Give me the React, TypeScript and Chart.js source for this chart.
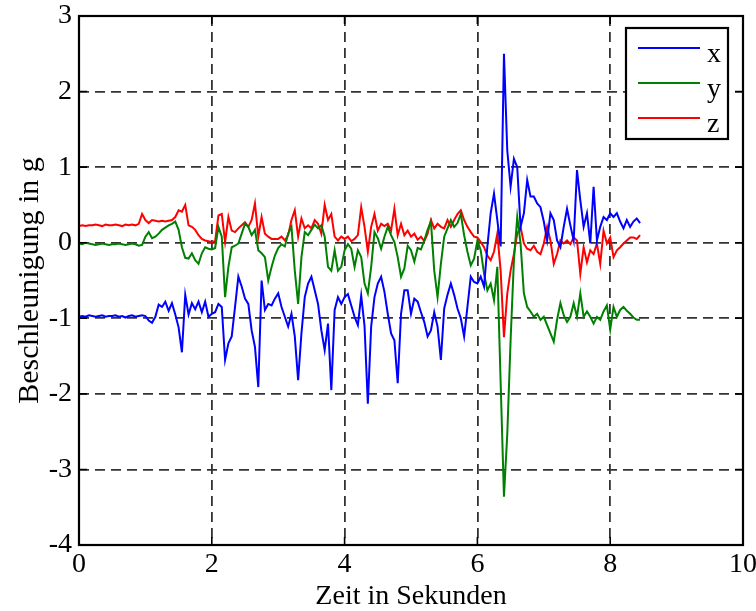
import { useEffect, useRef } from "react";
import { Chart, registerables } from "chart.js";

Chart.register(...registerables);

// sampling step of the recording (seconds)
const T_STEP = 0.05;

// acceleration x (blue)
const accX = [
  -0.98, -0.97, -0.98, -0.96, -0.97, -0.98, -0.97, -0.96, -0.98, -0.97, -0.97, -0.96, -0.98, -0.97, -0.99, -0.97, -0.96, -0.98, -0.97, -0.96,
  -0.97, -1.03, -1.06, -0.98, -0.82, -0.85, -0.78, -0.9, -0.8, -0.95, -1.12, -1.45, -0.69, -0.95, -0.8, -0.88, -0.78, -0.92, -0.78, -0.98,
  -0.94, -0.92, -0.81, -0.85, -1.55, -1.33, -1.24, -0.85, -0.45, -0.58, -0.74, -0.81, -1.16, -1.38, -1.91, -0.5, -0.89, -0.81, -0.83, -0.74,
  -0.67, -0.85, -0.98, -1.11, -0.94, -1.24, -1.82, -1.2, -0.72, -0.54, -0.45, -0.63, -0.81, -1.16, -1.42, -1.07, -1.95, -0.89, -0.72, -0.81,
  -0.72, -0.68, -0.83, -0.98, -1.09, -0.7, -1.1, -2.13, -1.11, -0.72, -0.54, -0.45, -0.65, -0.94, -1.2, -1.29, -1.86, -0.94, -0.63, -0.63,
  -0.94, -0.74, -0.78, -0.92, -1.05, -1.24, -1.16, -0.92, -1.11, -1.55, -0.87, -0.69, -0.54, -0.69, -0.87, -1.0, -1.24, -0.85, -0.45, -0.52,
  -0.54, -0.45, -0.58, -0.05, 0.39, 0.65, 0.3, -0.05, 2.5, 1.22, 0.74, 1.11, 1.0, 0.21, 0.39, 0.83, 0.61, 0.61, 0.52, 0.47,
  0.28, 0.03, 0.39, 0.3, 0.03, -0.06, 0.21, 0.45, 0.23, 0.03, 0.96, 0.56, 0.21, 0.39, -0.01, 0.74, 0.03, 0.21, 0.34, 0.3,
  0.39, 0.34, 0.39, 0.28, 0.19, 0.3, 0.21, 0.28, 0.32, 0.26,
];

// acceleration y (green)
const accY = [
  -0.01, -0.02, 0.0, -0.01, -0.02, -0.03, -0.02, -0.01, -0.02, -0.03, -0.02, -0.02, -0.01, -0.02, -0.03, -0.02, -0.01, -0.02, -0.04, -0.03,
  0.08, 0.14, 0.06, 0.08, 0.12, 0.17, 0.2, 0.23, 0.25, 0.28, 0.17, -0.06, -0.2, -0.21, -0.14, -0.23, -0.28, -0.14, -0.06, -0.08,
  -0.09, -0.07, 0.21, 0.08, -0.72, -0.32, -0.06, -0.04, -0.01, 0.12, 0.25, 0.21, 0.1, 0.17, -0.1, -0.14, -0.19, -0.5, -0.32, -0.17,
  -0.07, -0.02, -0.05, 0.12, 0.21, -0.37, -0.81, -0.19, 0.14, 0.1, 0.17, 0.24, 0.19, 0.23, 0.08, -0.32, -0.37, -0.1, -0.37, -0.32,
  -0.1, -0.02, -0.08, -0.32, -0.1, -0.19, -0.54, -0.67, -0.32, 0.14, 0.06, -0.08, 0.08, 0.21, 0.1, 0.01, -0.19, -0.45, -0.34, -0.04,
  -0.1, -0.25, -0.07, -0.09, 0.03, 0.17, 0.28, -0.37, -0.72, -0.28, 0.08, 0.19, 0.3, 0.21, 0.26, 0.38, 0.1, -0.12, -0.3, -0.21,
  0.03, -0.1, -0.41, -0.63, -0.54, -0.76, -0.32, -1.85, -3.36, -2.53, -1.29, -0.23, 0.34, -0.01, -0.67, -0.85, -0.91, -0.98, -0.94, -1.02,
  -0.98, -1.09, -1.2, -1.31, -1.02, -0.8, -0.96, -1.05, -0.98, -0.8, -0.98, -0.67, -0.98, -0.91, -0.98, -1.07, -0.98, -1.02, -0.91, -0.83,
  -1.15, -0.85, -0.98, -0.89, -0.85, -0.9, -0.94, -0.99, -1.02, -1.02,
];

// acceleration z (red)
const accZ = [
  0.22, 0.23, 0.22, 0.23, 0.23, 0.24, 0.23, 0.22, 0.24, 0.23, 0.23, 0.24, 0.23, 0.22, 0.24, 0.23, 0.24, 0.23, 0.25, 0.38,
  0.3, 0.26, 0.3, 0.29, 0.28, 0.29, 0.28, 0.29, 0.3, 0.34, 0.43, 0.41, 0.5, 0.23, 0.21, 0.17, 0.1, 0.05, 0.03, 0.02,
  0.01, 0.02, 0.36, 0.38, 0.01, 0.34, 0.16, 0.14, 0.19, 0.23, 0.27, 0.21, 0.3, 0.52, 0.08, 0.34, 0.12, 0.08, 0.05, 0.05,
  0.05, 0.08, 0.03, 0.1, 0.3, 0.43, 0.08, 0.32, 0.19, 0.23, 0.19, 0.3, 0.25, 0.12, 0.5, 0.3, 0.38, 0.08, 0.03, 0.08,
  0.05, 0.08, 0.02, 0.05, 0.1, 0.47, 0.21, -0.12, 0.21, 0.38, 0.16, 0.25, 0.22, 0.25, 0.16, 0.45, 0.1, 0.25, 0.1, 0.16,
  0.08, 0.12, 0.04, 0.08, 0.02, 0.12, 0.3, 0.19, 0.25, 0.21, 0.19, 0.3, 0.21, 0.3, 0.38, 0.43, 0.3, 0.21, 0.14, 0.08,
  0.07, 0.01, -0.06, -0.17, -0.23, -0.12, 0.12, -0.37, -1.25, -0.67, -0.37, -0.15, 0.12, 0.21, -0.01, -0.08, -0.1, -0.04, -0.12, -0.15,
  -0.01, 0.21, 0.03, -0.28, -0.15, 0.03, -0.01, 0.03, -0.02, 0.07, 0.03, -0.41, -0.06, -0.26, -0.1, -0.15, -0.01, -0.28, 0.16, -0.01,
  0.07, -0.19, -0.1, -0.06, -0.01, 0.03, 0.07, 0.07, 0.05, 0.1,
];

const seriesLabels = ["x", "y", "z"];
const seriesColors = ["#0000ff", "#008000", "#ff0000"];
const seriesValues = [accX, accY, accZ];

const X_MIN = 0;
const X_MAX = 10;
const X_STEP = 2;
const Y_MIN = -4;
const Y_MAX = 3;
const Y_STEP = 1;

const xTitle = "Zeit in Sekunden";
const yTitle = "Beschleunigung in g";

const FONT_FAMILY = "'Liberation Serif', 'Times New Roman', 'DejaVu Serif', serif";
const FONT_SIZE = 28;

const framePlugin = {
  id: "matlabFrame",
  afterDatasetsDraw(chart: any) {
    const { ctx, chartArea: a, scales } = chart;
    ctx.save();
    // inner tick marks on all four sides
    const L = 8;
    ctx.strokeStyle = "#000";
    ctx.lineWidth = 1.6;
    ctx.setLineDash([]);
    ctx.beginPath();
    scales.x.ticks.forEach((t: any) => {
      const px = scales.x.getPixelForValue(t.value);
      ctx.moveTo(px, a.bottom);
      ctx.lineTo(px, a.bottom - L);
      ctx.moveTo(px, a.top);
      ctx.lineTo(px, a.top + L);
    });
    scales.y.ticks.forEach((t: any) => {
      const py = scales.y.getPixelForValue(t.value);
      ctx.moveTo(a.left, py);
      ctx.lineTo(a.left + L, py);
      ctx.moveTo(a.right, py);
      ctx.lineTo(a.right - L, py);
    });
    ctx.stroke();
    // axes box
    ctx.lineWidth = 2.2;
    ctx.strokeRect(a.left, a.top, a.right - a.left, a.bottom - a.top);

    // legend box (top right, inside axes)
    const bw = 102;
    const bh = 111;
    const bx = a.right - 15 - bw;
    const by = a.top + 12;
    ctx.fillStyle = "#fff";
    ctx.fillRect(bx, by, bw, bh);
    ctx.lineWidth = 2.2;
    ctx.strokeStyle = "#000";
    ctx.strokeRect(bx, by, bw, bh);
    ctx.font = `${FONT_SIZE}px ${FONT_FAMILY}`;
    ctx.textAlign = "left";
    ctx.textBaseline = "alphabetic";
    chart.data.datasets.forEach((ds: any, i: number) => {
      const ly = by + 20 + i * 35;
      ctx.strokeStyle = ds.borderColor;
      ctx.lineWidth = 2;
      ctx.beginPath();
      ctx.moveTo(bx + 12, ly);
      ctx.lineTo(bx + 74, ly);
      ctx.stroke();
      ctx.fillStyle = "#000";
      ctx.fillText(ds.label, bx + 81, ly + 14);
    });
    ctx.restore();
  },
};

export default function App() {
  const canvasRef = useRef<HTMLCanvasElement | null>(null);

  useEffect(() => {
    if (!canvasRef.current) return;
    const datasets = seriesValues.map((vals, s) => ({
      label: seriesLabels[s],
      data: vals.map((v, i) => ({ x: i * T_STEP, y: v })),
      borderColor: seriesColors[s],
      backgroundColor: seriesColors[s],
      borderWidth: 2,
      pointRadius: 0,
      tension: 0,
      fill: false,
    }));
    const gridCommon = {
      color: "#333333",
      lineWidth: 1.8,
      drawTicks: false,
    };
    const chart = new Chart(canvasRef.current, {
      type: "line",
      data: { datasets },
      plugins: [framePlugin],
      options: {
        responsive: false,
        animation: false,
        events: [],
        layout: { padding: { left: 0, right: 13, top: 16, bottom: 0 } },
        plugins: {
          legend: { display: false },
          tooltip: { enabled: false },
        },
        scales: {
          x: {
            type: "linear",
            min: X_MIN,
            max: X_MAX,
            grid: gridCommon,
            border: { display: false, dash: [10, 6] },
            ticks: {
              stepSize: X_STEP,
              color: "#000",
              padding: 3,
              maxRotation: 0,
              font: { family: FONT_FAMILY, size: FONT_SIZE },
            },
            title: {
              display: true,
              text: xTitle,
              color: "#000",
              font: { family: FONT_FAMILY, size: FONT_SIZE, lineHeight: 1 },
              padding: { top: 0, bottom: 0 },
            },
            afterFit(scale: any) {
              scale.height = 66;
              scale.paddingLeft = 0;
              scale.paddingRight = 0;
            },
          },
          y: {
            type: "linear",
            min: Y_MIN,
            max: Y_MAX,
            grid: gridCommon,
            border: { display: false, dash: [10, 6] },
            ticks: {
              stepSize: Y_STEP,
              color: "#000",
              padding: 7,
              font: { family: FONT_FAMILY, size: FONT_SIZE },
            },
            title: {
              display: true,
              text: yTitle,
              color: "#000",
              font: { family: FONT_FAMILY, size: 30, lineHeight: 1 },
              padding: { top: 15, bottom: 0 },
            },
            afterFit(scale: any) {
              scale.width = 79;
              scale.paddingTop = 0;
              scale.paddingBottom = 0;
            },
          },
        },
      },
    } as any);
    return () => chart.destroy();
  }, []);

  return (
    <div style={{ position: "absolute", left: 0, top: 0, width: 756, height: 611, background: "#fff" }}>
      <canvas ref={canvasRef} width={756} height={611} style={{ display: "block" }} />
    </div>
  );
}
